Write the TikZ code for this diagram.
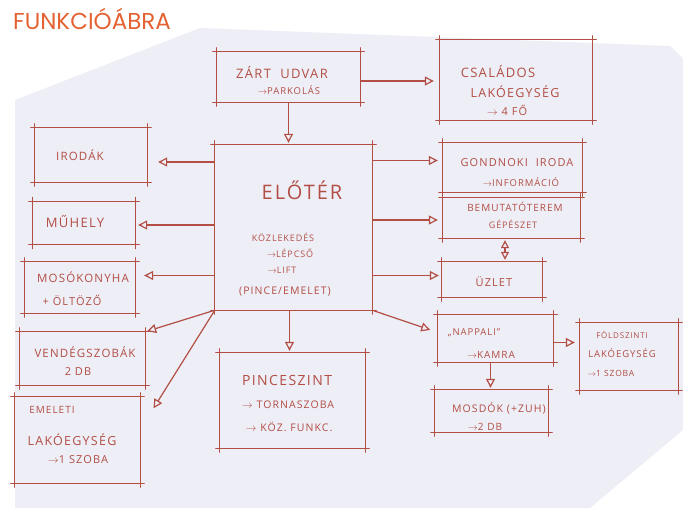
\documentclass[tikz,border=0pt]{standalone}
\usepackage{fontspec}
\newfontfamily\hand{Open Sans}[LetterSpace=10]
\newfontfamily\titlefont{Poppins}
\usetikzlibrary{arrows.meta,calc}
\definecolor{ink}{RGB}{178,78,68}
\definecolor{paper}{RGB}{238,238,247}
\definecolor{titleorange}{RGB}{228,98,50}
\newcommand\skbox[2][4]{%
  \draw[inkline] ([xshift=-#1]#2.north west) -- ([xshift=#1]#2.north east);
  \draw[inkline] ([xshift=-#1]#2.south west) -- ([xshift=#1]#2.south east);
  \draw[inkline] ([yshift=#1]#2.north west) -- ([yshift=-#1]#2.south west);
  \draw[inkline] ([yshift=#1]#2.north east) -- ([yshift=-#1]#2.south east);
}
\newcommand\tx[4]{\node[lbl,font=\hand\fontsize{#3}{#3}\selectfont] (#1) at (#2) {#4};}
\begin{document}
\begin{tikzpicture}[x=1pt,y=-1pt,
  box/.style 2 args={draw=none,minimum width=#1,minimum height=#2,inner sep=0pt},
  lbl/.style={text=ink,align=center,inner sep=0pt},
  inkline/.style={draw=ink,line width=1.2pt,line cap=round},
  arr/.style={draw=ink,line width=1.2pt,-{Triangle[open,length=9pt,width=9pt]},shorten >=4pt},
  darr/.style={draw=ink,line width=1.2pt,{Triangle[open,length=8pt,width=8pt]}-{Triangle[open,length=8pt,width=8pt]},shorten >=2pt,shorten <=2pt}]
\useasboundingbox (0,0) rectangle (683,508);
\fill[white] (0,0) rectangle (683,508);
\fill[paper] (15,100) -- (200,28) -- (670,46) -- (683,58) -- (683,430) -- (590,508) -- (15,508) -- cycle;

\node[anchor=west,text=titleorange,font=\titlefont\fontsize{23}{26}\selectfont,inner sep=0pt] (title) at (13,19) {FUNKCIÓÁBRA};

% boxes
\node[box={143}{50}] (zart) at (288.5,77) {};
\node[box={152}{80}] (csal) at (516,80) {};
\node[box={112}{54}] (irodak) at (91,155) {};
\node[box={102}{43}] (muhely) at (84,223) {};
\node[box={157}{165}] (eloter) at (293.5,227.5) {};
\node[box={139}{49}] (gond) at (512.5,167.5) {};
\node[box={137}{40}] (bemut) at (511.5,218) {};
\node[box={100}{35}] (uzlet) at (492,279.5) {};
\node[box={110}{51}] (moso) at (80,287.5) {};
\node[box={125}{53}] (vendeg) at (82.5,358.5) {};
\node[box={125}{86}] (emeleti) at (77.5,440) {};
\node[box={145}{95}] (pince) at (292.5,400.5) {};
\node[box={115}{47}] (nappali) at (495.5,338.5) {};
\node[box={98}{67}] (fold) at (629,356.5) {};
\node[box={113}{42}] (mosdok) at (491.5,411) {};

\foreach \b in {zart,csal,irodak,muhely,eloter,gond,bemut,uzlet,moso,vendeg,emeleti,pince,nappali,fold,mosdok}{\skbox{\b}}

% texts
\tx{zart1}{282,73}{13}{ZÁRT\ \ UDVAR}
\tx{zart2}{289,90}{9.5}{$\to$PARKOLÁS}
\tx{csal1}{498,72}{13}{CSALÁDOS}
\tx{csal2}{515,92}{12.5}{LAKÓEGYSÉG}
\tx{csal3}{507,110}{11}{$\to$ 4 FŐ}
\tx{irodak-t}{80,155}{11.5}{IRODÁK}
\tx{muhely-t}{75,222}{13}{MŰHELY}
\tx{eloter-t}{302,190}{20}{ELŐTÉR}
\tx{el1}{283,237}{9}{KÖZLEKEDÉS}
\tx{el2}{290,253}{9}{$\to$LÉPCSŐ}
\tx{el3}{282,270}{9}{$\to$LIFT}
\tx{el4}{285,292}{10.5}{(PINCE/EMELET)}
\tx{gond1}{517,163}{11}{GONDNOKI\ \ IRODA}
\tx{gond2}{521,182}{9.5}{$\to$INFORMÁCIÓ}
\tx{bem1}{515,207}{10}{BEMUTATÓTEREM}
\tx{bem2}{513,224}{9}{GÉPÉSZET}
\tx{uzlet-t}{494,282}{11}{ÜZLET}
\tx{moso1}{83,277}{11.5}{MOSÓKONYHA}
\tx{moso2}{72,300}{11}{+ ÖLTÖZŐ}
\tx{vend1}{85,352}{11.5}{VENDÉGSZOBÁK}
\tx{vend2}{78,372}{11}{2 DB}
\tx{em1}{52,410}{10}{EMELETI}
\tx{em2}{72,440}{12.5}{LAKÓEGYSÉG}
\tx{em3}{78,460}{11}{$\to$1 SZOBA}
\tx{pin1}{287,380}{14}{PINCESZINT}
\tx{pin2}{288,405}{10.5}{$\to$ TORNASZOBA}
\tx{pin3}{289,427}{10.5}{$\to$ KÖZ. FUNKC.}
\tx{nap1}{474,333}{9.5}{„NAPPALI”}
\tx{nap2}{491,355}{10}{$\to$KAMRA}
\tx{fold1}{622,335}{8}{FÖLDSZINTI}
\tx{fold2}{622,353}{9.5}{LAKÓEGYSÉG}
\tx{fold3}{611,373}{8.5}{$\to$1 SZOBA}
\tx{mos1}{499,408}{10.5}{MOSDÓK (+ZUH)}
\tx{mos2}{485,427}{10}{$\to$2 DB}

% connectors
\draw[arr,shorten >=2pt] (zart.south) -- (zart.south |- eloter.north);
\draw[arr,shorten >=6pt] ($(zart.east)+(0,4)$) -- ($(zart.east -| csal.west)+(0,4)$);
\draw[arr,shorten >=11pt] ($(eloter.west |- irodak.east)+(0,7)$) -- ($(irodak.east)+(0,7)$);
\draw[arr,shorten >=3pt] ($(eloter.west |- muhely.east)+(0,2)$) -- ($(muhely.east)+(0,2)$);
\draw[arr,shorten >=9pt] ($(eloter.west |- moso.east)+(0,-12)$) -- ($(moso.east)+(0,-12)$);
\draw[arr,shorten >=2pt] (eloter.south west) -- (vendeg.north east);
\draw[arr,shorten >=10pt] (eloter.south west) -- ($(emeleti.north east)+(8,20)$);
\draw[arr,shorten >=5pt] ($(eloter.east |- gond.west)+(0,-7)$) -- ($(gond.west)+(0,-7)$);
\draw[arr,shorten >=5pt] ($(eloter.east |- bemut.west)+(0,2)$) -- ($(bemut.west)+(0,2)$);
\draw[arr,shorten >=3pt] ($(eloter.east |- uzlet.west)+(0,-4)$) -- ($(uzlet.west)+(0,-4)$);
\draw[arr,shorten >=2pt] ($(eloter.south)+(-4,0)$) -- ($(eloter.south |- pince.north)+(-4,0)$);
\draw[arr,shorten >=8pt] (eloter.south east) -- ($(nappali.west)+(0,-6)$);
\draw[darr] ($(bemut.south)+(-6.5,0)$) -- ($(bemut.south |- uzlet.north)+(-6.5,0)$);
\draw[arr,shorten >=5pt] ($(nappali.east)+(0,4)$) -- ($(nappali.east -| fold.west)+(0,4)$);
\draw[arr,shorten >=2pt] ($(nappali.south)+(-5,0)$) -- ($(nappali.south |- mosdok.north)+(-5,0)$);
\end{tikzpicture}
\end{document}
